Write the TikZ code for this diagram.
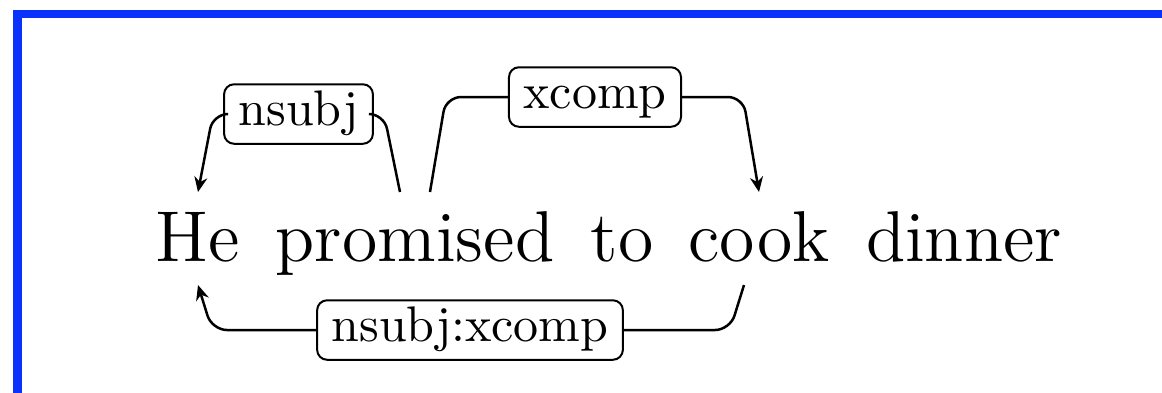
\documentclass[tikz,border=0pt]{standalone}
\usetikzlibrary{calc,arrows.meta}
\definecolor{frameblue}{RGB}{10,50,252}
\begin{document}
\begin{tikzpicture}[x=0.2pt,y=-0.2pt,
  word/.style={anchor=base,inner sep=0pt,text height=13.6pt,text depth=4.6pt,font=\Large},
  deplabel/.style={draw,rounded corners=2pt,line width=0.4pt,inner xsep=2.9pt,inner ysep=1.3pt,
                   text height=7pt,text depth=2.3pt,font=\normalsize,fill=white},
  dep/.style={line width=0.5pt,rounded corners=3pt},
  deparrow/.style={dep,-{Stealth[length=3pt,width=2.6pt]}}]
\useasboundingbox (0,0) rectangle (1162,392);
\begin{scope}
  \clip (0,0) rectangle (1162,392);
  \draw[frameblue,line width=1.65pt] (17.5,14) rectangle (1300,480);
\end{scope}
% words
\node[word] (He) at (198,261) {He};
\node[word] (promised) at (415,261) {promised};
\node[word] (to) at (622,261) {to};
\node[word] (cook) at (759,261) {cook};
\node[word] (dinner) at (964,261) {dinner};
% labels
\node[deplabel] (nsubj) at (298.5,114) {nsubj};
\node[deplabel] (xcomp) at (595,97) {xcomp};
\node[deplabel] (nsubjxcomp) at (470,330) {nsubj:xcomp};
% nsubj: promised -> He
\draw[dep] ($(promised.north)+(-15,0)$) -- ($(promised.north |- nsubj.east)+(-31,0)$) -- (nsubj.east);
\draw[deparrow] (nsubj.west) -- ($(He.north |- nsubj.west)+(15,0)$) -- (He.north);
% xcomp: promised -> cook
\draw[dep] ($(promised.north)+(15,0)$) -- ($(promised.north |- xcomp.west)+(31,0)$) -- (xcomp.west);
\draw[deparrow] (xcomp.east) -- ($(cook.north |- xcomp.east)+(-16,0)$) -- (cook.north);
% nsubj:xcomp: cook -> He
\draw[dep] ($(cook.south)+(-15,0)$) -- ($(cook.south |- nsubjxcomp.east)+(-29,0)$) -- (nsubjxcomp.east);
\draw[deparrow] (nsubjxcomp.west) -- ($(He.south |- nsubjxcomp.west)+(14,0)$) -- (He.south);
\end{tikzpicture}
\end{document}
